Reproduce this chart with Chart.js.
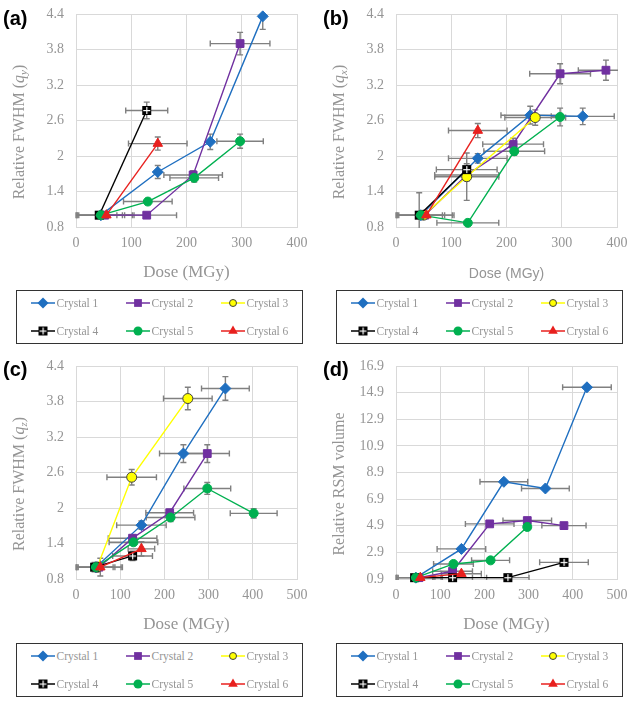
<!DOCTYPE html>
<html>
<head>
<meta charset="utf-8">
<script src="https://cdn.jsdelivr.net/npm/chart.js@4.4.0/dist/chart.umd.min.js"></script>
<style>
html, body { margin: 0; padding: 0; background: #fff; }
#page { position: relative; width: 640px; height: 708px; overflow: hidden; background: #fff; }
.panel { position: absolute; width: 320px; height: 285px; }
.tag { position: absolute; font: bold 20px "Liberation Sans", Arial, sans-serif; color: #000; line-height: 20px; }
.ytitle { position: absolute; white-space: nowrap; font: 16px "Liberation Serif", serif; color: #959595; line-height: 16px;
          transform: translate(-50%, -50%) rotate(-90deg); }
.ytitle sub { font-size: 11px; vertical-align: -3px; line-height: 0; }
.legend { position: absolute; width: 287px; height: 54px; border: 1.5px solid #333; box-sizing: border-box; }
.item { position: absolute; height: 14px; display: flex; align-items: center; font: 11.5px "Liberation Serif", serif; color: #959595; white-space: nowrap; }
.item canvas { margin-right: 2px; }
</style>
</head>
<body>
<div id="page">
  <canvas id="chartA" class="panel" width="320" height="285" style="left:0;top:0"></canvas>
  <canvas id="chartB" class="panel" width="320" height="285" style="left:320px;top:0"></canvas>
  <canvas id="chartC" class="panel" width="320" height="285" style="left:0;top:352px"></canvas>
  <canvas id="chartD" class="panel" width="320" height="285" style="left:320px;top:352px"></canvas>

  <div class="tag" style="left:3px;top:8px">(a)</div>
  <div class="tag" style="left:323px;top:8px">(b)</div>
  <div class="tag" style="left:3px;top:359px">(c)</div>
  <div class="tag" style="left:323px;top:359px">(d)</div>

  <div class="ytitle" style="left:19px;top:132px">Relative FWHM (<i>q</i><sub><i>y</i></sub>)</div>
  <div class="ytitle" style="left:339px;top:132px">Relative FWHM (<i>q</i><sub><i>x</i></sub>)</div>
  <div class="ytitle" style="left:19px;top:484px">Relative FWHM (<i>q</i><sub><i>z</i></sub>)</div>
  <div class="ytitle" style="left:339px;top:484px">Relative RSM volume</div>

  <div class="legend" id="legA" style="left:16px;top:290px"></div>
  <div class="legend" id="legB" style="left:336px;top:290px"></div>
  <div class="legend" id="legC" style="left:16px;top:643px"></div>
  <div class="legend" id="legD" style="left:336px;top:643px"></div>
</div>

<script>
// crystals
const crystalNames = ['Crystal 1', 'Crystal 2', 'Crystal 3', 'Crystal 4', 'Crystal 5', 'Crystal 6'];

// tick labels
const fwhmTicks = [0.8, 1.4, 2, 2.6, 3.2, 3.8, 4.4];
const volTicks = [0.9, 2.9, 4.9, 6.9, 8.9, 10.9, 12.9, 14.9, 16.9];
const doseTicks4 = [0, 100, 200, 300, 400];
const doseTicks5 = [0, 100, 200, 300, 400, 500];

// (a) relative FWHM along qy, one inner list per crystal
const doseA = [[45, 148, 243, 338], [52, 128, 212, 297], [], [42, 128], [45, 130, 214, 297], [55, 148]];
const fwhmA = [[1.0, 1.73, 2.24, 4.36], [1.0, 1.0, 1.68, 3.9], [], [1.0, 2.77], [1.0, 1.23, 1.63, 2.25], [1.0, 2.21]];
const doseErrA = [[0, 0, 0, 0], [50, 54, 53, 54], [], [42, 38], [43, 44, 44, 42], [50, 53]];
const fwhmErrA = [[0, 0.11, 0.13, 0.22], [0, 0, 0.07, 0.19], [], [0, 0.14], [0, 0.03, 0.07, 0.12], [0, 0.11]];

// (b) relative FWHM along qx
const doseB = [[45, 148, 243, 338], [52, 128, 212, 297, 380], [50, 128, 252], [42, 128], [45, 130, 214, 297], [55, 148]];
const fwhmB = [[1.0, 1.96, 2.69, 2.67], [1.0, 1.68, 2.2, 3.39, 3.45], [1.0, 1.65, 2.65], [1.0, 1.77], [1.0, 0.87, 2.08, 2.66], [1.0, 2.43]];
const doseErrB = [[0, 53, 53, 57], [50, 58, 55, 55, 50], [0, 58, 55], [42, 55], [43, 56, 55, 0], [50, 53]];
const fwhmErrB = [[0, 0.08, 0.15, 0.14], [0, 0.1, 0.1, 0.17, 0.17], [0, 0.4, 0.13], [0.38, 0.1], [0, 0, 0.07, 0.15], [0, 0.12]];

// (c) relative FWHM along qz
const doseC = [[45, 148, 243, 338], [52, 128, 212, 297], [48, 126, 253], [42, 128], [45, 130, 214, 297, 402], [55, 148]];
const fwhmC = [[1.0, 1.71, 2.92, 4.02], [1.0, 1.49, 1.92, 2.92], [1.0, 2.52, 3.85], [1.0, 1.19], [1.0, 1.42, 1.84, 2.33, 1.91], [1.0, 1.31]];
const doseErrC = [[0, 56, 54, 54], [50, 55, 54, 50], [0, 56, 55], [42, 45], [43, 55, 55, 53, 53], [50, 30]];
const fwhmErrC = [[0, 0.07, 0.15, 0.2], [0, 0.05, 0.06, 0.15], [0.08, 0.13, 0.19], [0.08, 0.08], [0.06, 0.05, 0.07, 0.1, 0.08], [0.15, 0.12]];

// (d) relative RSM volume
const doseD = [[45, 148, 244, 338, 432], [52, 128, 212, 297, 380], [], [42, 128, 253, 380], [45, 130, 214, 297], [55, 148]];
const volD = [[1.0, 3.16, 8.2, 7.7, 15.3], [1.0, 1.48, 5.04, 5.29, 4.91], [], [1.0, 1.0, 1.0, 2.15], [1.0, 2.03, 2.3, 4.81], [1.0, 1.3]];
const doseErrD = [[0, 55, 54, 54, 55], [50, 45, 55, 55, 50], [], [42, 45, 48, 55], [43, 45, 43, 0], [50, 45]];
const volErrD = [[0, 0, 0, 0, 0], [0, 0, 0, 0, 0], [], [0, 0, 0, 0], [0, 0, 0, 0], [0, 0]];

// styles
const crystalColors = ['#1F6FC0', '#7030A0', '#FFFF00', '#000000', '#00B050', '#E8201E'];
const crystalRadius = [5.5, 5.5, 5, 5, 4.5, 5.5];

function plusMarker() {
    const c = document.createElement('canvas');
    c.width = 11; c.height = 11;
    const g = c.getContext('2d');
    g.fillStyle = '#000';
    g.fillRect(1, 1, 9, 9);
    g.fillStyle = '#fff';
    g.fillRect(5, 2, 1.2, 7); g.fillRect(2, 5, 7, 1.2);
    return c;
}
const crystalMarkers = ['rectRot', 'rect', 'circle', plusMarker(), 'circle', 'triangle'];

// error bars drawn under the lines, through the chart scales
const errorBars = {
    id: 'errorBars',
    beforeDatasetsDraw(chart) {
        const { ctx, chartArea: a, scales: { x, y } } = chart;
        ctx.save();
        ctx.beginPath(); ctx.rect(a.left - 1, a.top - 1, a.right - a.left + 2, a.bottom - a.top + 2); ctx.clip();
        ctx.strokeStyle = '#808080';
        ctx.lineWidth = 1.4;
        const cap = 3;
        chart.data.datasets.forEach(ds => {
            ds.data.forEach((p, i) => {
                const px = x.getPixelForValue(p.x), py = y.getPixelForValue(p.y);
                const xe = ds.xErr[i], ye = ds.yErr[i];
                ctx.beginPath();
                if (xe) {
                    const l = x.getPixelForValue(p.x - xe), r = x.getPixelForValue(p.x + xe);
                    ctx.moveTo(l, py); ctx.lineTo(r, py);
                    ctx.moveTo(l, py - cap); ctx.lineTo(l, py + cap);
                    ctx.moveTo(r, py - cap); ctx.lineTo(r, py + cap);
                }
                if (ye) {
                    const t = y.getPixelForValue(p.y + ye), b = y.getPixelForValue(p.y - ye);
                    ctx.moveTo(px, t); ctx.lineTo(px, b);
                    ctx.moveTo(px - cap, t); ctx.lineTo(px + cap, t);
                    ctx.moveTo(px - cap, b); ctx.lineTo(px + cap, b);
                }
                ctx.stroke();
            });
        });
        ctx.restore();
    }
};

function buildSets(dose, vals, dErr, vErr) {
    const sets = [];
    dose.forEach((xs, i) => {
        if (!xs.length) return;
        const yellow = i === 2;
        sets.push({
            label: crystalNames[i],
            data: xs.map((x, j) => ({ x, y: vals[i][j] })),
            xErr: dErr[i],
            yErr: vErr[i],
            showLine: true,
            borderColor: crystalColors[i],
            backgroundColor: crystalColors[i],
            borderWidth: 1.4,
            pointStyle: crystalMarkers[i],
            pointRadius: crystalRadius[i],
            pointBackgroundColor: crystalColors[i],
            pointBorderColor: yellow ? '#404040' : crystalColors[i],
            pointBorderWidth: 1,
            order: -i,
            clip: false
        });
    });
    return sets;
}

const gray = '#959595';
const gridCol = '#d9d9d9';

function makeChart(id, sets, xTicks, yTicks, xTitleFont) {
    const fmt = v => String(+Number(v).toFixed(2));
    return new Chart(document.getElementById(id), {
        type: 'scatter',
        data: { datasets: sets },
        options: {
            responsive: false,
            animation: false,
            devicePixelRatio: 1,
            layout: { padding: { top: 14, right: 23, left: 0, bottom: 0 } },
            plugins: { legend: { display: false }, tooltip: { enabled: false } },
            scales: {
                x: {
                    type: 'linear',
                    min: xTicks[0], max: xTicks[xTicks.length - 1],
                    afterBuildTicks: s => { s.ticks = xTicks.map(v => ({ value: v })); },
                    afterFit: s => { s.height = 58; },
                    grid: { color: gridCol, drawTicks: true, tickLength: 8, tickColor: 'rgba(0,0,0,0)' },
                    border: { color: gridCol },
                    ticks: { color: gray, padding: 0, maxRotation: 0, font: { family: 'Liberation Serif', size: 14 }, callback: fmt },
                    title: { display: true, text: 'Dose (MGy)', color: gray, font: xTitleFont, padding: { top: 0, bottom: 2 } }
                },
                y: {
                    type: 'linear',
                    min: yTicks[0], max: yTicks[yTicks.length - 1],
                    afterBuildTicks: s => { s.ticks = yTicks.map(v => ({ value: v })); },
                    afterFit: s => { s.width = 76; },
                    grid: { color: gridCol, drawTicks: true, tickLength: 12, tickColor: 'rgba(0,0,0,0)' },
                    border: { color: gridCol },
                    ticks: { color: gray, padding: 0, font: { family: 'Liberation Serif', size: 14 }, callback: fmt }
                }
            }
        },
        plugins: [errorBars]
    });
}

const serifTitle = { family: 'Liberation Serif', size: 17 };
const sansTitle = { family: 'Liberation Sans', size: 14 };

makeChart('chartA', buildSets(doseA, fwhmA, doseErrA, fwhmErrA), doseTicks4, fwhmTicks, serifTitle);
makeChart('chartB', buildSets(doseB, fwhmB, doseErrB, fwhmErrB), doseTicks4, fwhmTicks, sansTitle);
makeChart('chartC', buildSets(doseC, fwhmC, doseErrC, fwhmErrC), doseTicks5, fwhmTicks, serifTitle);
makeChart('chartD', buildSets(doseD, volD, doseErrD, volErrD), doseTicks5, volTicks, serifTitle);

// legend icons: short line with the series marker
function legendIcon(i) {
    const c = document.createElement('canvas');
    c.width = 24; c.height = 12;
    const g = c.getContext('2d');
    const col = crystalColors[i];
    g.strokeStyle = col; g.lineWidth = 1.5;
    g.beginPath(); g.moveTo(0, 6); g.lineTo(24, 6); g.stroke();
    g.fillStyle = col;
    g.beginPath();
    const cx = 12, cy = 6, r = crystalRadius[i];
    if (i === 0) { g.moveTo(cx, cy - r); g.lineTo(cx + r, cy); g.lineTo(cx, cy + r); g.lineTo(cx - r, cy); g.closePath(); g.fill(); }
    else if (i === 1) { const s = r * Math.SQRT1_2; g.rect(cx - s, cy - s, 2 * s, 2 * s); g.fill(); }
    else if (i === 2) { g.arc(cx, cy, 3.5, 0, Math.PI * 2); g.fill(); g.strokeStyle = '#404040'; g.lineWidth = 1; g.stroke(); }
    else if (i === 3) { g.drawImage(crystalMarkers[3], cx - 5.5, cy - 5.5); }
    else if (i === 4) { g.arc(cx, cy, r, 0, Math.PI * 2); g.fill(); }
    else { g.moveTo(cx, cy - r); g.lineTo(cx + r * 0.87, cy + r * 0.5); g.lineTo(cx - r * 0.87, cy + r * 0.5); g.closePath(); g.fill(); }
    return c;
}

['legA', 'legB', 'legC', 'legD'].forEach(id => {
    const box = document.getElementById(id);
    crystalNames.forEach((name, i) => {
        const it = document.createElement('div');
        it.className = 'item';
        it.style.left = (13.5 + (i % 3) * 95) + 'px';
        it.style.top = (4.5 + Math.floor(i / 3) * 28) + 'px';
        it.appendChild(legendIcon(i));
        const t = document.createElement('span');
        t.textContent = name;
        it.appendChild(t);
        box.appendChild(it);
    });
});
</script>
</body>
</html>
